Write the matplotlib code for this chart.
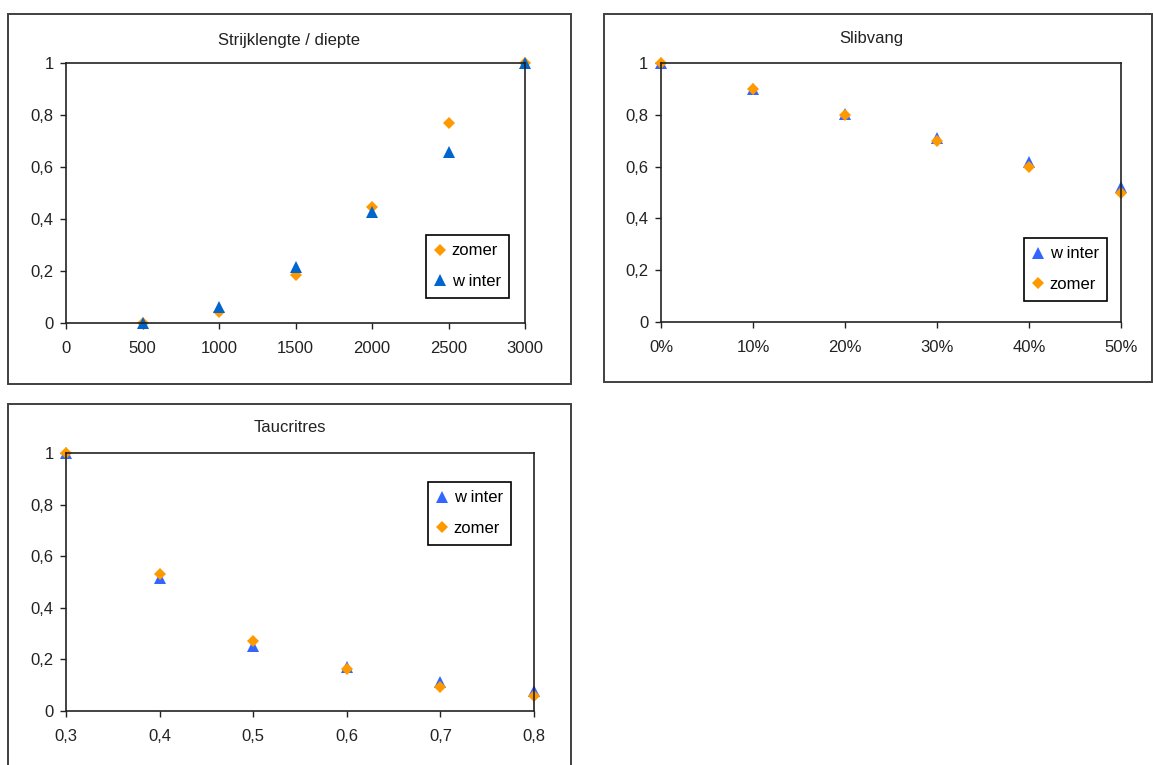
import matplotlib
matplotlib.use("Agg")
import matplotlib.pyplot as plt
from matplotlib.patches import Rectangle
from matplotlib.ticker import FixedLocator, FixedFormatter

plt.rcParams['font.family'] = ['Liberation Sans', 'DejaVu Sans']

# ---- data ----
x1 = [500, 1000, 1500, 2000, 2500, 3000]
zomer1 = [0.0, 0.042, 0.186, 0.448, 0.769, 1.0]
winter1 = [0.0, 0.061, 0.214, 0.426, 0.659, 1.0]

x2 = [0.0, 0.1, 0.2, 0.3, 0.4, 0.5]
winter2 = [1.0, 0.90, 0.805, 0.712, 0.618, 0.52]
zomer2 = [1.0, 0.90, 0.80, 0.70, 0.60, 0.50]

x3 = [0.3, 0.4, 0.5, 0.6, 0.7, 0.8]
winter3 = [1.0, 0.515, 0.252, 0.172, 0.114, 0.079]
zomer3 = [1.0, 0.532, 0.272, 0.164, 0.094, 0.057]

titles = ["Strijklengte / diepte", "Slibvang", "Taucritres"]
yticks = [0, 0.2, 0.4, 0.6, 0.8, 1.0]
ytick_labels = ["0", "0,2", "0,4", "0,6", "0,8", "1"]
xticks1 = [0, 500, 1000, 1500, 2000, 2500, 3000]
xtick_labels1 = ["0", "500", "1000", "1500", "2000", "2500", "3000"]
xticks2 = [0.0, 0.1, 0.2, 0.3, 0.4, 0.5]
xtick_labels2 = ["0%", "10%", "20%", "30%", "40%", "50%"]
xticks3 = [0.3, 0.4, 0.5, 0.6, 0.7, 0.8]
xtick_labels3 = ["0,3", "0,4", "0,5", "0,6", "0,7", "0,8"]

ORANGE = "#FF9900"
DBLUE = "#0066CC"
LBLUE = "#3366FF"

W, H = 1153, 765
fig = plt.figure(figsize=(W / 100, H / 100), dpi=100)
FS = 12


def fx(px):
    return px / W


def fy(py):
    return 1 - py / H


def frame(x0, y0, x1_, y1_):
    r = Rectangle((fx(x0), fy(y1_)), fx(x1_) - fx(x0), fy(y0) - fy(y1_),
                  transform=fig.transFigure, fill=False, edgecolor="#404040",
                  linewidth=1.4, zorder=0)
    fig.add_artist(r)


frame(8, 14, 571, 384)
frame(604, 14, 1152, 382)
frame(8, 404, 571, 800)


def make_ax(l, t, r, b):
    ax = fig.add_axes([fx(l), fy(b), fx(r) - fx(l), fy(t) - fy(b)])
    for s in ax.spines.values():
        s.set_linewidth(1.2)
        s.set_color("#222222")
    ax.tick_params(direction="out", length=4, width=1, labelsize=FS,
                   colors="#222222", labelcolor="#222222")
    ax.tick_params(axis="x", pad=9)
    ax.tick_params(axis="y", pad=5)
    ax.set_ylim(0, 1)
    ax.yaxis.set_major_locator(FixedLocator(yticks))
    ax.yaxis.set_major_formatter(FixedFormatter(ytick_labels))
    return ax


kw_d = dict(marker="D", markersize=6.2, linestyle="none", color=ORANGE,
            clip_on=False, markeredgewidth=0)
kw_t = dict(marker="^", markersize=8.8, linestyle="none", clip_on=False,
            markeredgewidth=0)

leg_kw = dict(loc="upper left", bbox_transform=fig.transFigure, fancybox=False,
              frameon=True, edgecolor="black", fontsize=FS, handlelength=0.7,
              handletextpad=0.35, labelspacing=0.95, borderpad=0.5,
              borderaxespad=0, framealpha=1)

# ---- chart 1 ----
ax1 = make_ax(66, 63, 525, 323)
ax1.set_xlim(0, 3000)
ax1.xaxis.set_major_locator(FixedLocator(xticks1))
ax1.xaxis.set_major_formatter(FixedFormatter(xtick_labels1))
ax1.plot(x1, zomer1, label="zomer", **kw_d)
ax1.plot(x1, winter1, label="w inter", color=DBLUE, **kw_t)
lg = ax1.legend(bbox_to_anchor=(fx(426), fy(235)), **leg_kw)
lg.get_frame().set_linewidth(1.2)
fig.text(fx(289), fy(40), titles[0], ha="center", va="center", fontsize=FS,
         color="#222222")

# ---- chart 2 ----
ax2 = make_ax(661, 63, 1121, 322)
ax2.set_xlim(0, 0.5)
ax2.xaxis.set_major_locator(FixedLocator(xticks2))
ax2.xaxis.set_major_formatter(FixedFormatter(xtick_labels2))
ax2.plot(x2, winter2, label="w inter", color=LBLUE, **kw_t)
ax2.plot(x2, zomer2, label="zomer", **kw_d)
lg = ax2.legend(bbox_to_anchor=(fx(1024), fy(238)), **leg_kw)
lg.get_frame().set_linewidth(1.2)
fig.text(fx(871), fy(39), titles[1], ha="center", va="center", fontsize=FS,
         color="#222222")

# ---- chart 3 ----
ax3 = make_ax(66, 453, 534, 711)
ax3.set_xlim(0.3, 0.8)
ax3.xaxis.set_major_locator(FixedLocator(xticks3))
ax3.xaxis.set_major_formatter(FixedFormatter(xtick_labels3))
ax3.plot(x3, winter3, label="w inter", color=LBLUE, **kw_t)
ax3.plot(x3, zomer3, label="zomer", **kw_d)
lg = ax3.legend(bbox_to_anchor=(fx(428), fy(482)), **leg_kw)
lg.get_frame().set_linewidth(1.2)
fig.text(fx(290), fy(428), titles[2], ha="center", va="center", fontsize=FS,
         color="#222222")

fig.savefig("out.png", dpi=100)
